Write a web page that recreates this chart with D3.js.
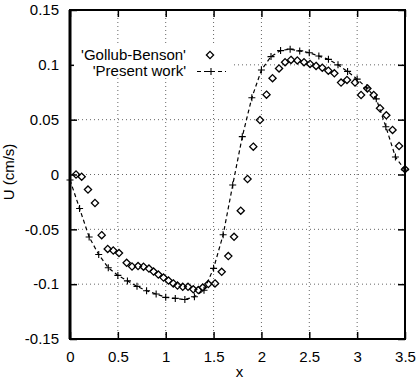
<!DOCTYPE html>
<html>
<head>
<meta charset="utf-8">
<script src="https://cdn.jsdelivr.net/npm/d3@7"></script>
<style>
  html, body { margin: 0; padding: 0; background: #fff; }
  svg text { font-family: "Liberation Sans", Arial, Helvetica, sans-serif; fill: #000; }
</style>
</head>
<body>
<svg id="chart" width="417" height="382"></svg>
<script>
// Gollub-Benson measurements (diamonds)
var gbX = [0.063, 0.122, 0.188, 0.261, 0.331, 0.394, 0.452, 0.512, 0.592, 0.648,
  0.711, 0.768, 0.825, 0.873, 0.923, 0.977, 1.029, 1.079, 1.123, 1.178,
  1.233, 1.288, 1.341, 1.387, 1.445, 1.515, 1.585, 1.654, 1.714, 1.784,
  1.855, 1.915, 1.985, 2.053, 2.116, 2.184, 2.247, 2.309, 2.375, 2.445,
  2.508, 2.571, 2.636, 2.699, 2.762, 2.832, 2.894, 2.978, 3.041, 3.107,
  3.173, 3.239, 3.305, 3.370, 3.438, 3.500];
var gbU = [0.000, -0.002, -0.0137, -0.026, -0.0553, -0.0679, -0.0693, -0.0716, -0.0805, -0.0839,
  -0.0835, -0.0841, -0.0858, -0.0885, -0.0912, -0.094, -0.0967, -0.0993, -0.1013, -0.1024,
  -0.1024, -0.1047, -0.1054, -0.1031, -0.0999, -0.0993, -0.0887, -0.0744, -0.0568, -0.033,
  -0.0041, 0.0254, 0.0497, 0.0728, 0.0878, 0.0967, 0.1024, 0.1045, 0.104, 0.1024,
  0.1008, 0.099, 0.0974, 0.0947, 0.0923, 0.0838, 0.0862, 0.0839, 0.0725, 0.0785,
  0.0725, 0.0604, 0.054, 0.0406, 0.026, 0.0047];

// Present work (dashed line with crosses)
var pwX = [0.0, 0.1, 0.2, 0.3, 0.4, 0.5, 0.6, 0.7, 0.8, 0.9, 1.0, 1.1, 1.2, 1.3, 1.4, 1.5, 1.6, 1.7,
  1.8, 1.9, 2.0, 2.1, 2.2, 2.3, 2.4, 2.5, 2.6, 2.7, 2.8, 2.9, 3.0, 3.1, 3.2, 3.3, 3.4, 3.5];
var pwU = [-0.005, -0.031, -0.057, -0.073, -0.085, -0.092, -0.097, -0.102, -0.106, -0.109,
  -0.112, -0.113, -0.114, -0.1115, -0.1055, -0.0856, -0.055, -0.0096, 0.0345, 0.070,
  0.0953, 0.1075, 0.113, 0.1143, 0.1127, 0.111, 0.108, 0.105, 0.100, 0.094,
  0.087, 0.079, 0.069, 0.0436, 0.016, 0.004];

var xTicks = [0, 0.5, 1, 1.5, 2, 2.5, 3, 3.5];
var xTickLabels = ['0', '0.5', '1', '1.5', '2', '2.5', '3', '3.5'];
var yTicks = [-0.15, -0.1, -0.05, 0, 0.05, 0.1, 0.15];
var yTickLabels = ['-0.15', '-0.1', '-0.05', '0', '0.05', '0.1', '0.15'];
var legendLabels = ["'Gollub-Benson'", "'Present work'"];

var L = 70, R = 405, T = 10, B = 339;
var svg = d3.select('#chart');
var x = d3.scaleLinear().domain([0, 3.5]).range([L, R]);
var y = d3.scaleLinear().domain([-0.15, 0.15]).range([B, T]);

// grid
var grid = svg.append('g').attr('stroke', '#666').attr('stroke-width', 1).attr('stroke-dasharray', '1,3');
grid.selectAll('.gx').data(xTicks.slice(1, -1)).enter().append('line')
  .attr('x1', function (d) { return x(d); }).attr('x2', function (d) { return x(d); })
  .attr('y1', T).attr('y2', B);
grid.selectAll('.gy').data(yTicks.slice(1, -1)).enter().append('line')
  .attr('y1', function (d) { return y(d); }).attr('y2', function (d) { return y(d); })
  .attr('x1', L).attr('x2', R);

// axes with inward ticks, mirrored
var tk = 7;
svg.append('g').attr('transform', 'translate(0,' + B + ')')
  .call(d3.axisBottom(x).tickValues(xTicks).tickSize(-tk).tickPadding(12)
    .tickFormat(function (d, i) { return xTickLabels[i]; }));
svg.append('g').attr('transform', 'translate(0,' + T + ')')
  .call(d3.axisTop(x).tickValues(xTicks).tickSize(-tk).tickFormat(''));
svg.append('g').attr('transform', 'translate(' + L + ',0)')
  .call(d3.axisLeft(y).tickValues(yTicks).tickSize(-tk).tickPadding(11)
    .tickFormat(function (d, i) { return yTickLabels[i]; }));
svg.append('g').attr('transform', 'translate(' + R + ',0)')
  .call(d3.axisRight(y).tickValues(yTicks).tickSize(-tk).tickFormat(''));
svg.selectAll('.domain').remove();
svg.selectAll('.tick line').attr('stroke', '#000').attr('stroke-width', 1.5);
svg.selectAll('.tick text').attr('font-size', 15).attr('fill', '#000')
  .attr('font-family', '"Liberation Sans", Arial, sans-serif');

// frame
svg.append('rect').attr('x', L).attr('y', T).attr('width', R - L).attr('height', B - T)
  .attr('fill', 'none').attr('stroke', '#000').attr('stroke-width', 2);
svg.append('line').attr('x1', L).attr('x2', L).attr('y1', T).attr('y2', B)
  .attr('stroke', '#000').attr('stroke-width', 3);

// axis titles
svg.append('text').attr('x', (L + R) / 2 + 2).attr('y', 377).attr('text-anchor', 'middle')
  .attr('font-size', 15).text('x');
svg.append('text').attr('transform', 'translate(14,' + 172 + ') rotate(-90)')
  .attr('text-anchor', 'middle').attr('font-size', 15).text('U (cm/s)');

// present work: dashed line + crosses
var pw = pwX.map(function (v, i) { return [v, pwU[i]]; });
var line = d3.line().x(function (d) { return x(d[0]); }).y(function (d) { return y(d[1]); });
svg.append('path').datum(pw).attr('d', line).attr('fill', 'none')
  .attr('stroke', '#000').attr('stroke-width', 1.2).attr('stroke-dasharray', '4,3');
var cross = d3.symbol().type(d3.symbolCross);
function plus(g, cx, cy) {
  g.append('path').attr('d', 'M' + (cx - 3.5) + ',' + cy + 'H' + (cx + 3.5) + 'M' + cx + ',' + (cy - 3.5) + 'V' + (cy + 3.5))
    .attr('stroke', '#000').attr('stroke-width', 1.1).attr('fill', 'none');
}
var gp = svg.append('g');
pw.forEach(function (d) { plus(gp, x(d[0]), y(d[1])); });

// Gollub-Benson diamonds
function diamond(g, cx, cy) {
  var r = 3.6;
  g.append('path').attr('d', 'M' + cx + ',' + (cy - r) + 'L' + (cx + r) + ',' + cy + 'L' + cx + ',' + (cy + r) + 'L' + (cx - r) + ',' + cy + 'Z')
    .attr('fill', 'none').attr('stroke', '#000').attr('stroke-width', 1.3);
}
var gd = svg.append('g');
gbX.forEach(function (v, i) { diamond(gd, x(v), y(gbU[i])); });

// legend
var lg = svg.append('g');
lg.append('rect').attr('x', 74).attr('y', 45).attr('width', 160).attr('height', 33).attr('fill', '#fff');
lg.append('text').attr('x', 186).attr('y', 60).attr('text-anchor', 'end').attr('font-size', 15).text(legendLabels[0]);
lg.append('text').attr('x', 186).attr('y', 76).attr('text-anchor', 'end').attr('font-size', 15).text(legendLabels[1]);
diamond(lg, 210, 55);
lg.append('line').attr('x1', 197).attr('x2', 226).attr('y1', 71.5).attr('y2', 71.5)
  .attr('stroke', '#000').attr('stroke-width', 1.2).attr('stroke-dasharray', '4,3');
plus(lg, 211, 71.5);
</script>
</body>
</html>
